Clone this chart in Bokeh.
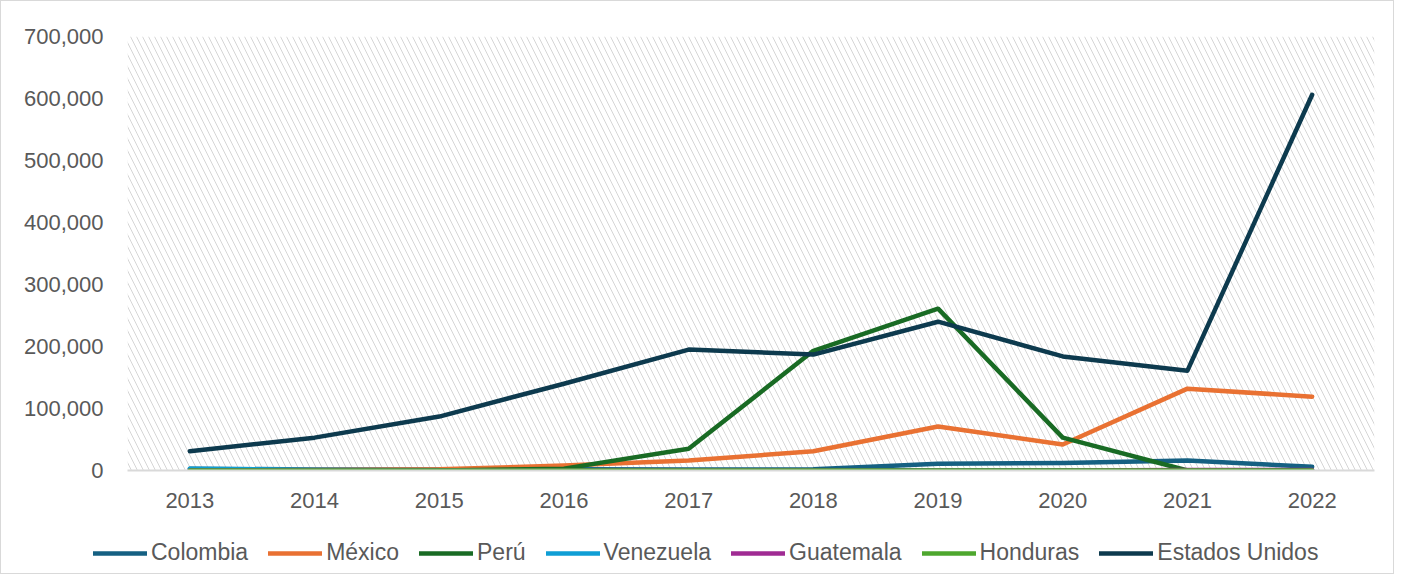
from bokeh.plotting import figure
from bokeh.layouts import column, row
from bokeh.models import Range1d, FixedTicker, NumeralTickFormatter, Legend, LegendItem, BoxAnnotation
from bokeh.embed import file_html
from bokeh.resources import INLINE

years = [2013, 2014, 2015, 2016, 2017, 2018, 2019, 2020, 2021, 2022]
colombia = [3000, 1500, 1500, 2000, 1500, 2000, 11000, 12000, 16000, 6000]
mexico = [1000, 1000, 2000, 8000, 16000, 31000, 71000, 42000, 132000, 119000]
peru = [0, 0, 0, 3000, 35000, 193000, 261000, 53000, 0, 0]
venezuela = [3000, 1000, 500, 500, 500, 500, 500, 500, 500, 500]
guatemala = [0, 0, 0, 0, 0, 0, 0, 0, 1000, 1000]
honduras = [0, 0, 0, 0, 0, 0, 0, 0, 0, 0]
estados_unidos = [31000, 53000, 87000, 140000, 195000, 187000, 240000, 184000, 161000, 606000]

series = [
    ("Colombia", colombia, "#156082"),
    ("México", mexico, "#E97132"),
    ("Perú", peru, "#196B24"),
    ("Venezuela", venezuela, "#0F9ED5"),
    ("Guatemala", guatemala, "#A02B93"),
    ("Honduras", honduras, "#4EA72E"),
    ("Estados Unidos", estados_unidos, "#0D3A4E"),
]

FONT = "Liberation Sans"
FS = "22px"
TXT = "#595959"
LW = 4.5

p = figure(width=1392, height=514, output_backend="svg", toolbar_location=None,
           x_range=Range1d(2012.5, 2022.5), y_range=Range1d(0, 700000),
           min_border_left=126, min_border_right=19, min_border_top=35, min_border_bottom=45,
           background_fill_color="white", border_fill_color="white")
p.outline_line_color = None

hatch = BoxAnnotation(fill_color="white", fill_alpha=1.0, line_color=None,
                      hatch_pattern="\\", hatch_color="#D6D6D6", hatch_scale=12,
                      hatch_weight=1.0, level="underlay")
p.add_layout(hatch)

p.xaxis.ticker = FixedTicker(ticks=years)
p.yaxis.ticker = FixedTicker(ticks=list(range(0, 700001, 100000)))
p.yaxis.formatter = NumeralTickFormatter(format="0,0")
p.xgrid.ticker = FixedTicker(ticks=[y + 0.5 for y in range(2012, 2023)])
p.xgrid.grid_line_color = "#E3E3E3"
p.ygrid.grid_line_color = "#E3E3E3"
p.xgrid.grid_line_width = 1.5
p.ygrid.grid_line_width = 1.5
p.xgrid.level = "image"
p.ygrid.level = "image"

for ax in (p.xaxis, p.yaxis):
    ax.major_tick_line_color = None
    ax.minor_tick_line_color = None
    ax.major_label_text_font = FONT
    ax.major_label_text_font_size = FS
    ax.major_label_text_color = TXT
p.yaxis.axis_line_color = None
p.xaxis.axis_line_color = "#D9D9D9"
p.xaxis.axis_line_width = 2
p.xaxis.major_label_standoff = 16
p.yaxis.major_label_standoff = 18

for name, vals, color in series:
    p.line(years, vals, line_color=color, line_width=LW, line_cap="round", line_join="round")

# legend strip (dummy renderers lie outside the visible range)
p2 = figure(width=1392, height=58, output_backend="svg", toolbar_location=None,
            x_axis_location=None, y_axis_location=None,
            x_range=Range1d(0, 1), y_range=Range1d(0, 1),
            min_border_left=0, min_border_right=0, min_border_top=18, min_border_bottom=0,
            background_fill_color="white", border_fill_color="white")
p2.outline_line_color = None
p2.grid.visible = False

items = []
for name, vals, color in series:
    r = p2.line(x=[-5, -4], y=[-5, -4], line_color=color, line_width=LW, line_cap="round")
    items.append(LegendItem(label=name, renderers=[r]))

legend = Legend(items=items, orientation="horizontal", location=(92, 7),
                label_text_font=FONT, label_text_font_size="23px", label_text_color=TXT,
                glyph_width=54, glyph_height=22, label_height=22, spacing=20, label_standoff=4,
                border_line_color=None, background_fill_alpha=0, padding=0, margin=0)
p2.add_layout(legend, "center")

layout = column(p, row(p2), spacing=0, styles={"border": "1px solid #D9D9D9"})

open("out.html", "w").write(file_html(layout, INLINE))
